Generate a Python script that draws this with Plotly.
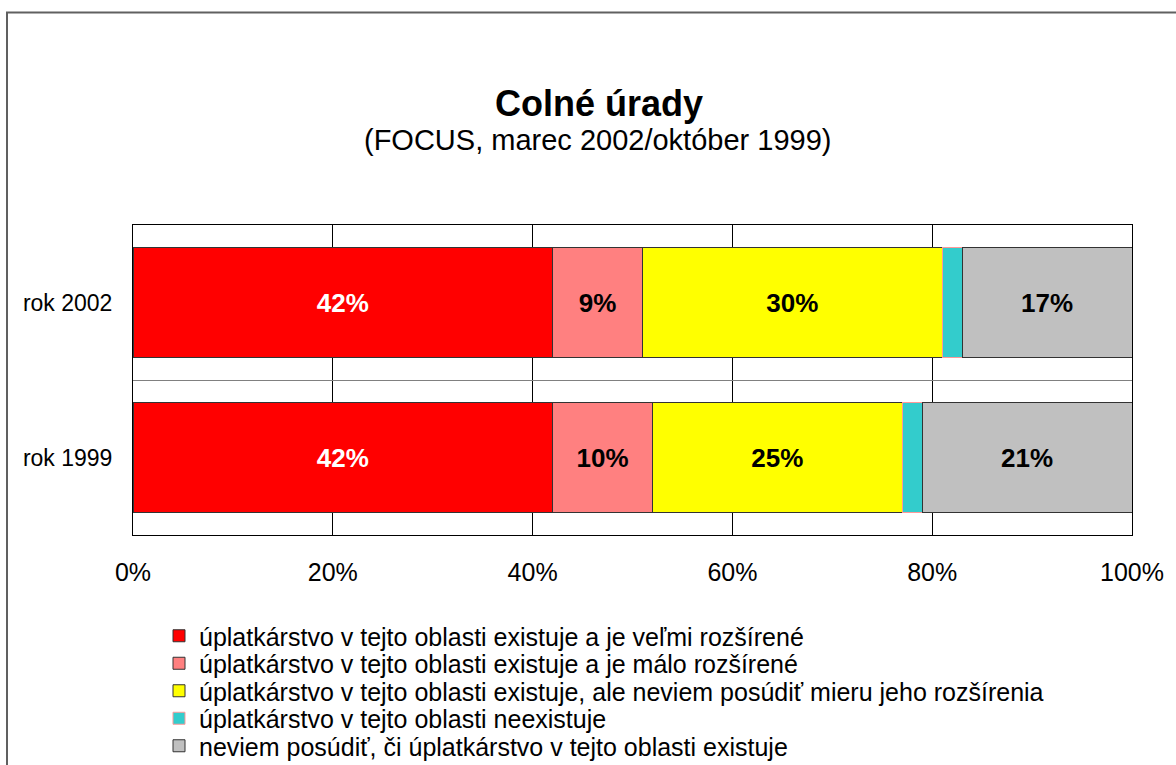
import plotly.graph_objects as go

categories = ["rok 1999", "rok 2002"]
series_names = [
    "úplatkárstvo v tejto oblasti existuje a je veľmi rozšírené",
    "úplatkárstvo v tejto oblasti existuje a je málo rozšírené",
    "úplatkárstvo v tejto oblasti existuje, ale neviem posúdiť mieru jeho rozšírenia",
    "úplatkárstvo v tejto oblasti neexistuje",
    "neviem posúdiť, či úplatkárstvo v tejto oblasti existuje",
]
velmi_rozsirene = [42, 42]
malo_rozsirene = [10, 9]
neviem_mieru = [25, 30]
neexistuje = [2, 2]
neviem_ci = [21, 17]
x_ticks = [0, 20, 40, 60, 80, 100]
x_tick_labels = ["0%", "20%", "40%", "60%", "80%", "100%"]

values = [velmi_rozsirene, malo_rozsirene, neviem_mieru, neexistuje, neviem_ci]
colors = ["#FF0000", "#FF8080", "#FFFF00", "#33CCCC", "#C0C0C0"]
line_colors = ["#333333", "#333333", "#333333", "#FF9999", "#333333"]
text_colors = ["white", "black", "black", "black", "black"]
show_text = [True, True, True, False, True]

FONT = "Arial, 'Liberation Sans', sans-serif"

W, H = 1176, 765
L, R, T, B = 133, 44, 225, 230
pw, ph = W - L - R, H - T - B


def px_x(p):
    return (p - L) / pw


def px_y(p):
    return (H - B - p) / ph


legend_ids = ["legend", "legend2", "legend3", "legend4", "legend5"]
legend_rows = [636, 663.5, 691, 718.5, 746]

fig = go.Figure()
for name, vals, col, lc, tc, st, lid in zip(series_names, values, colors, line_colors,
                                            text_colors, show_text, legend_ids):
    fig.add_trace(go.Bar(
        y=categories, x=vals, name=name, orientation="h", legend=lid,
        marker=dict(color=col, line=dict(color=lc, width=1)),
        texttemplate="<b>%{x}%</b>" if st else "",
        textposition="inside", insidetextanchor="middle", textangle=0,
        constraintext="none",
        textfont=dict(color=tc, size=26, family=FONT),
        hoverinfo="skip",
    ))

legends = {}
for lid, row in zip(legend_ids, legend_rows):
    legends[lid] = dict(x=px_x(159), y=px_y(row), xanchor="left", yanchor="middle",
                        font=dict(size=25, family=FONT, color="black"),
                        bgcolor="rgba(0,0,0,0)", itemclick=False, itemdoubleclick=False)

fig.update_layout(
    width=W, height=H,
    margin=dict(l=L, r=R, t=T, b=B, autoexpand=False),
    barmode="stack", bargap=0.284,
    paper_bgcolor="white", plot_bgcolor="white",
    font=dict(family=FONT, color="black"),
    title=dict(text="<b>Colné úrady</b>", x=599 / W, y=1 - 103 / H,
               xanchor="center", yanchor="middle", xref="container", yref="container",
               font=dict(size=36, color="black", family=FONT)),
    annotations=[dict(text="(FOCUS, marec 2002/október 1999)", xref="paper", yref="paper",
                      x=px_x(597), y=px_y(140), xanchor="center", yanchor="middle",
                      showarrow=False, font=dict(size=29, color="black", family=FONT))],
    xaxis=dict(range=[0, 100], tickvals=x_ticks, ticktext=x_tick_labels, showgrid=True,
               gridcolor="black", gridwidth=1, showline=True, linecolor="black",
               linewidth=1, mirror=True, zeroline=False, ticks="",
               tickfont=dict(size=25, family=FONT), ticklabelstandoff=15),
    yaxis=dict(type="category", categoryorder="array", categoryarray=categories,
               tickson="boundaries", showgrid=True, gridcolor="#808080", gridwidth=1,
               showline=True, linecolor="black", linewidth=1, mirror=True, ticks="",
               tickfont=dict(size=23, family=FONT), ticklabelstandoff=15),
    shapes=[dict(type="rect", xref="paper", yref="paper",
                 x0=px_x(7), x1=px_x(1190), y0=px_y(790), y1=px_y(12.5),
                 line=dict(color="#606060", width=2), fillcolor="rgba(0,0,0,0)", layer="below")],
    showlegend=True,
    **legends,
)

fig.write_html("out.html", config={"displayModeBar": False},
               post_script="document.body.style.margin='0';")
